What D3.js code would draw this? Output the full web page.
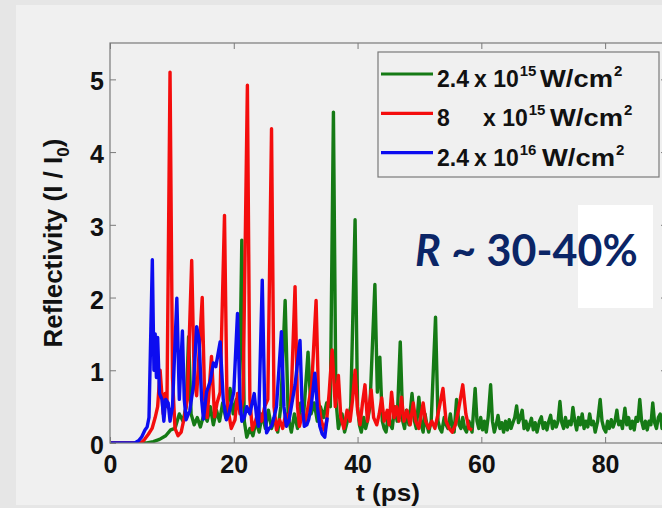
<!DOCTYPE html>
<html><head><meta charset="utf-8">
<script src="https://cdn.jsdelivr.net/npm/d3@7"></script>
<style>body{margin:0;background:#e6e6e6;} svg{display:block}</style>
</head><body><svg id="c" width="662" height="508"></svg>
<script>
const xTicks=[0,20,40,60,80];
const yTicks=[0,1,2,3,4,5];
const xDomain=[0,90];
const yDomain=[0,5.5];
const seriesNames=[["2.4","15"],["8","15"],["2.4","16"]];
const seriesColors=["#157a15","#f40d0d","#0c0cf0"];

const greenData=[[0,0],[6,0],[7,0.02],[8,0.05],[9,0.1],[9.8,0.18],[10.5,0.2],[11.2,0.4],[11.8,0.3],[12.3,0.5],[12.7,1.46],[13.1,0.4],[13.6,0.25],[14.1,0.35],[14.6,0.22],[15.2,0.4],[15.7,0.3],[16.2,0.5],[16.7,0.25],[17.2,0.45],[17.7,0.3],[18.2,0.55],[18.7,0.35],[19.4,0.75],[19.9,0.4],[20.4,0.6],[20.9,0.5],[21.3,2.79],[21.7,0.3],[22.1,0.08],[22.6,0.2],[23.1,0.1],[23.6,0.3],[24.1,0.15],[24.6,0.4],[25.1,0.2],[25.6,0.45],[26.1,0.2],[26.6,0.35],[27.1,0.15],[27.6,0.5],[28.3,1.96],[28.8,0.35],[29.3,0.15],[29.8,0.4],[30.3,0.2],[30.8,0.55],[31.3,0.4],[32.0,1.25],[32.5,0.4],[33.0,0.55],[33.5,0.3],[34.0,0.5],[34.5,0.35],[35.0,0.55],[35.6,0.5],[36.1,4.55],[36.5,0.6],[36.9,0.2],[37.2,0.3],[37.5,0.4],[37.9,0.15],[38.2,0.25],[38.5,0.35],[38.9,0.5],[39.6,3.07],[40.0,0.5],[40.3,0.25],[40.6,0.15],[41.0,0.35],[41.3,0.2],[41.6,0.3],[42.0,0.5],[42.8,2.18],[43.2,0.7],[43.6,1.18],[44.0,0.3],[44.3,0.2],[44.6,0.15],[45.0,0.4],[45.3,0.25],[45.6,0.2],[46.0,0.5],[46.4,0.3],[46.9,1.39],[47.3,0.3],[47.6,0.2],[47.9,0.45],[48.3,0.25],[48.8,0.68],[49.2,0.3],[49.5,0.2],[49.9,0.63],[50.3,0.25],[50.6,0.15],[50.9,0.4],[51.2,0.25],[51.5,0.15],[51.9,0.3],[52.6,1.73],[53.0,0.3],[53.3,0.2],[53.6,0.15],[54.0,0.35],[54.3,0.25],[54.6,0.2],[55.0,0.4],[55.3,0.2],[55.6,0.15],[56.0,0.6],[56.4,0.25],[56.7,0.2],[57.0,0.35],[57.3,0.2],[57.6,0.15],[58.0,0.3],[58.5,0.15],[59.0,0.75],[59.3,0.3],[59.6,0.2],[59.9,0.35],[60.2,0.18],[60.5,0.3],[60.8,0.15],[61.1,0.35],[61.5,0.8],[61.8,0.3],[62.1,0.15],[62.4,0.25],[62.7,0.38],[63.0,0.2],[63.3,0.28],[63.6,0.15],[63.9,0.3],[64.2,0.18],[64.5,0.32],[64.8,0.2],[65.1,0.28],[65.4,0.35],[65.7,0.51],[66.0,0.28],[66.3,0.35],[66.6,0.45],[66.9,0.2],[67.2,0.3],[67.5,0.18],[67.8,0.25],[68.1,0.34],[68.4,0.18],[68.7,0.28],[69.0,0.15],[69.4,0.3],[69.7,0.36],[70.0,0.2],[70.3,0.28],[70.6,0.18],[70.9,0.3],[71.2,0.38],[71.5,0.2],[71.8,0.3],[72.1,0.22],[72.4,0.3],[72.7,0.57],[73.0,0.28],[73.3,0.2],[73.6,0.35],[73.9,0.22],[74.2,0.3],[74.5,0.25],[74.8,0.49],[75.1,0.3],[75.4,0.18],[75.7,0.35],[76.0,0.25],[76.3,0.4],[76.6,0.2],[76.9,0.3],[77.2,0.22],[77.5,0.4],[77.8,0.25],[78.1,0.3],[78.4,0.15],[78.8,0.3],[79.2,0.6],[79.5,0.3],[79.8,0.2],[80.1,0.15],[80.4,0.3],[80.7,0.2],[81.0,0.32],[81.3,0.22],[81.6,0.3],[81.9,0.45],[82.2,0.25],[82.5,0.3],[82.8,0.2],[83.2,0.48],[83.5,0.25],[83.8,0.35],[84.1,0.2],[84.4,0.3],[84.7,0.18],[85.0,0.35],[85.3,0.3],[85.6,0.6],[85.9,0.3],[86.2,0.2],[86.5,0.3],[86.8,0.18],[87.1,0.3],[87.4,0.25],[87.7,0.55],[88.0,0.28],[88.3,0.2],[88.6,0.35],[88.9,0.4],[89.2,0.2],[89.6,0.3],[90,0.25]];

const redData=[[0,0],[5,0],[5.6,0.05],[6.2,0.12],[6.8,0.2],[7.3,0.35],[7.7,0.5],[8.1,1.0],[8.6,0.4],[8.9,0.68],[9.2,0.5],[9.7,5.1],[10.1,0.9],[10.5,0.2],[11.0,0.1],[11.5,0.15],[12.0,0.35],[12.5,0.6],[13.2,2.51],[13.6,0.9],[14.0,0.65],[14.9,2.0],[15.3,0.6],[15.7,0.35],[16.4,1.19],[16.9,0.36],[17.3,0.55],[17.8,0.7],[18.5,3.13],[18.9,0.6],[19.2,0.4],[19.6,0.2],[20.2,0.32],[20.6,0.68],[21.0,0.4],[21.5,0.6],[22.2,4.92],[22.6,0.6],[23.0,0.18],[23.5,0.3],[24.0,0.45],[24.5,0.3],[25.0,0.5],[25.5,0.6],[26.1,4.32],[26.5,0.5],[26.9,0.18],[27.4,0.32],[27.9,0.2],[28.4,0.4],[28.9,0.3],[29.3,0.7],[29.9,2.15],[30.3,0.5],[30.6,0.23],[31.1,0.4],[31.6,0.3],[32.1,0.55],[32.6,0.8],[33.3,1.96],[33.7,0.6],[34.1,0.32],[34.6,0.18],[35.0,0.3],[35.4,0.68],[35.9,1.28],[36.4,0.5],[36.9,0.93],[37.3,0.35],[37.8,0.2],[38.3,0.45],[38.8,0.3],[39.2,0.6],[39.6,1.0],[40.0,0.45],[40.4,0.25],[40.8,0.55],[41.2,0.8],[41.6,0.3],[42.2,0.73],[42.6,0.35],[43.1,0.25],[43.5,0.4],[43.9,0.62],[44.3,0.3],[44.8,0.45],[45.1,0.25],[45.5,0.7],[45.9,0.35],[46.3,0.5],[46.7,0.3],[47.1,0.63],[47.5,0.3],[48.0,0.45],[48.5,0.25],[49.0,0.55],[49.4,0.3],[49.9,0.2],[50.3,0.4],[50.6,0.55],[51.0,0.3],[51.5,0.2],[52.0,0.3],[52.5,0.2],[53.0,0.4],[53.8,0.75],[54.3,0.3],[54.8,0.2],[55.3,0.15],[55.8,0.25],[56.3,0.45],[57.0,0.8],[57.5,0.4],[58.0,0.2],[58.5,0.18]];

const blueData=[[0,0],[4,0],[4.6,0.03],[5.1,0.08],[5.65,0.18],[6.0,0.22],[6.3,0.35],[6.84,2.52],[7.1,1.0],[7.3,1.5],[7.5,0.9],[7.7,1.45],[8.0,0.68],[8.4,0.6],[8.7,0.3],[9.0,0.6],[9.4,0.55],[9.7,0.3],[10.1,0.5],[10.8,1.99],[11.2,0.6],[11.7,1.54],[12.0,0.6],[12.3,0.32],[12.9,0.45],[13.5,0.8],[14.0,1.6],[14.4,1.42],[14.8,0.6],[15.1,0.33],[15.6,0.7],[16.2,0.85],[16.7,1.1],[17.1,1.05],[17.8,1.39],[18.3,0.6],[18.8,0.32],[19.2,0.4],[19.6,0.55],[20.0,0.7],[20.6,1.78],[21.0,0.6],[21.3,0.3],[21.7,0.35],[22.1,0.5],[22.6,0.4],[23.3,0.68],[23.7,0.35],[24.0,0.23],[24.6,2.24],[25.0,0.5],[25.3,0.14],[25.7,0.2],[26.1,0.23],[26.5,0.35],[26.9,0.5],[27.7,1.53],[28.1,0.5],[28.5,0.23],[28.9,0.3],[29.3,0.5],[29.9,0.8],[30.7,1.41],[31.0,0.6],[31.4,0.23],[31.8,0.25],[32.1,0.32],[32.5,0.5],[33.1,0.96],[33.5,0.5],[33.9,0.23],[34.3,0.12],[34.7,0.08],[35.1,0.35]];

// legend text layout: [x of "x 10", x of "W/cm"] per row
const legendCols=[[474,540],[483,550],[474,542]];

const svg=d3.select("#c");
svg.append("rect").attr("x",0).attr("y",0).attr("width",662).attr("height",508).attr("fill","#e6e6e6");
svg.append("rect").attr("x",16).attr("y",5).attr("width",646).attr("height",500).attr("fill","#f0f0f0");

const x=d3.scaleLinear().domain(xDomain).range([110,667]);
const y=d3.scaleLinear().domain(yDomain).range([443,43]);
const font="'Liberation Sans', Arial, Helvetica, sans-serif";

svg.append("defs").append("clipPath").attr("id","clip").append("rect")
  .attr("x",x(0)).attr("y",y(yDomain[1])).attr("width",x(xDomain[1])-x(0)).attr("height",y(0)-y(yDomain[1]));

const line=d3.line().x(d=>x(d[0])).y(d=>y(d[1]));
const plot=svg.append("g").attr("clip-path","url(#clip)");
[greenData,redData,blueData].forEach((data,i)=>{
  plot.append("path").datum(data).attr("d",line).attr("fill","none")
    .attr("stroke",seriesColors[i]).attr("stroke-width",3.4).attr("stroke-linejoin","round");
});

function styleAxis(g){
  g.select(".domain").remove();
  g.selectAll(".tick line").attr("stroke","#7a7a7a");
  g.selectAll(".tick text").attr("fill","#111").style("font-family",font).style("font-size","25px").style("font-weight","bold");
}
svg.append("g").attr("transform",`translate(0,${y(0)})`)
  .call(d3.axisBottom(x).tickValues(xTicks).tickSizeInner(-6).tickSizeOuter(0).tickPadding(12)).call(styleAxis);
const ya=svg.append("g").attr("transform",`translate(${x(0)},0)`)
  .call(d3.axisLeft(y).tickValues(yTicks).tickFormat(d3.format("d")).tickSizeInner(-6).tickSizeOuter(0).tickPadding(6)).call(styleAxis);
ya.selectAll(".tick text").attr("dy","0.42em");
svg.append("g").attr("transform",`translate(0,${y(yDomain[1])})`)
  .call(d3.axisTop(x).tickValues(xTicks).tickSizeInner(-6).tickSizeOuter(0).tickFormat("")).call(styleAxis);
svg.append("g").attr("transform",`translate(${x(xDomain[1])},0)`)
  .call(d3.axisRight(y).tickValues(yTicks).tickSizeInner(-6).tickSizeOuter(0).tickFormat("")).call(styleAxis);

svg.append("rect").attr("x",x(0)).attr("y",y(yDomain[1])).attr("width",x(xDomain[1])-x(0)).attr("height",y(0)-y(yDomain[1]))
  .attr("fill","none").attr("stroke","#7a7a7a").attr("stroke-width",1.2);

// axis labels
svg.append("text").attr("x",388).attr("y",501).attr("text-anchor","middle")
  .attr("textLength",64).attr("lengthAdjust","spacingAndGlyphs")
  .style("font-family",font).style("font-size","24px").style("font-weight","bold").attr("fill","#111").text("t (ps)");
const yl=svg.append("text").attr("transform","translate(62,243) rotate(-90)").attr("text-anchor","middle")
  .style("font-family",font).style("font-size","26px").style("font-weight","bold").attr("fill","#111");
yl.append("tspan").text("Reflectivity (I / I");
yl.append("tspan").attr("dy",7).style("font-size","17px").text("0");
yl.append("tspan").attr("dy",-7).text(")");

// legend
const lg=svg.append("g");
lg.append("rect").attr("x",378).attr("y",52).attr("width",281).attr("height",125).attr("fill","#f0f0f0").attr("stroke","#7a7a7a").attr("stroke-width",1.2);
seriesNames.forEach((s,i)=>{
  const base=87+i*39.3;
  const cy=base-13;
  lg.append("line").attr("x1",381).attr("x2",433).attr("y1",cy).attr("y2",cy).attr("stroke",seriesColors[i]).attr("stroke-width",3.2);
  const st=t=>t.style("font-family",font).style("font-size","23px").style("font-weight","bold").attr("fill","#111");
  st(lg.append("text").attr("x",437).attr("y",base)).text(s[0]);
  const t2=st(lg.append("text").attr("x",legendCols[i][0]).attr("y",base));
  t2.append("tspan").text("x 10");
  t2.append("tspan").attr("dy",-11).attr("dx",1).style("font-size","15px").text(s[1]);
  const t3=st(lg.append("text").attr("x",legendCols[i][1]).attr("y",base));
  t3.append("tspan").attr("textLength",73).attr("lengthAdjust","spacingAndGlyphs").text("W/cm");
  t3.append("tspan").attr("dy",-11).attr("dx",1).style("font-size","15px").text("2");
});

// annotation
svg.append("rect").attr("x",578).attr("y",205).attr("width",75).attr("height",103).attr("fill","#ffffff");
const ann=svg.append("text").attr("x",415).attr("y",266).style("font-family","Lato, 'Open Sans', sans-serif").style("font-size","43px").style("font-weight","bold").attr("fill","#0b2566");
ann.append("tspan").style("font-style","italic").text("R");
ann.append("tspan").text(" ~ 30-40%");
</script></body></html>
